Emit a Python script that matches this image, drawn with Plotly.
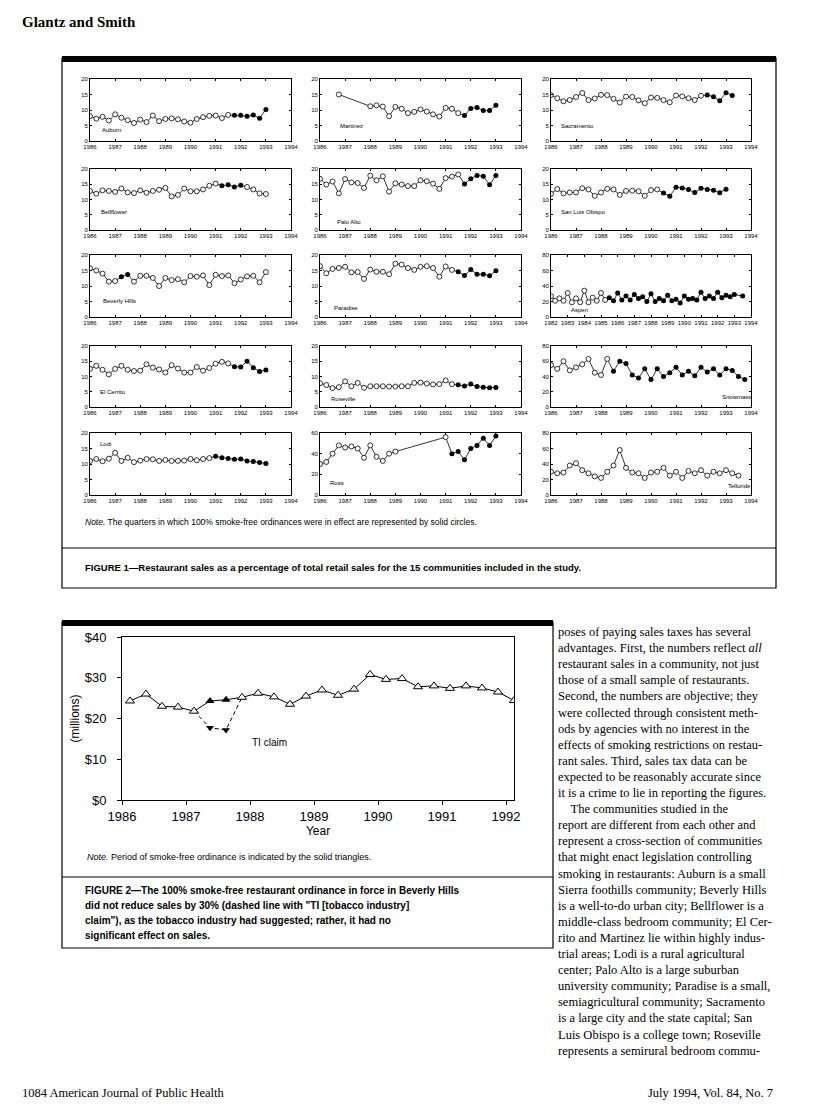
import plotly.graph_objects as go

W, H = 816, 1116
OFF = 8  # the page body adds an 8px margin; shift everything back by that much

# ---------------- Figure 1 data (restaurant sales, % of total retail sales) ----------------
# quarterly values starting at the given year; None = quarter not reported
auburn = [8.0, 7.2, 7.8, 6.6, 8.6, 7.5, 6.7, 5.8, 6.9, 6.1, 8.2, 6.4, 7.1, 7.3, 7.0, 6.3,
          5.9, 7.1, 7.7, 8.1, 8.2, 7.4, 8.4, 8.3, 8.3, 8.0, 8.4, 7.3, 10.2]
martinez = [None, None, None, 15.0, None, None, None, None, 11.2, 11.5, 11.1, 8.0, 11.0, 10.4, 9.0, 9.4,
            10.2, 9.5, 8.6, 7.9, 10.7, 10.4, 9.0, 8.2, 10.5, 10.8, 9.8, 9.8, 11.5]
sacramento = [14.8, 13.8, 12.8, 13.2, 14.2, 15.5, 13.2, 13.7, 14.9, 14.8, 13.6, 12.4, 14.3, 14.2, 13.1, 12.2,
              14.0, 13.9, 13.2, 12.5, 14.7, 14.4, 13.8, 13.2, 14.6, 14.8, 14.3, 13.0, 15.6, 14.7]
bellflower = [12.8, 11.9, 13.0, 12.8, 12.5, 13.6, 12.3, 12.1, 13.0, 12.2, 12.8, 13.2, 13.8, 11.0, 11.5, 13.6,
              12.7, 12.7, 13.3, 14.5, 15.2, 14.5, 14.8, 14.1, 14.7, 14.1, 13.3, 12.0, 11.8]
palo_alto = [16.8, 14.9, 15.9, 12.0, 16.7, 15.6, 15.4, 13.8, 17.8, 16.3, 17.6, 12.6, 15.3, 14.9, 14.4, 14.4,
             16.3, 16.0, 15.2, 13.5, 17.0, 17.5, 18.2, 15.1, 16.8, 17.9, 17.6, 14.8, 17.9]
san_luis = [11.9, 13.4, 12.0, 12.3, 12.3, 13.7, 13.3, 11.2, 12.3, 13.5, 13.3, 11.5, 12.8, 12.9, 12.7, 11.2,
            13.1, 13.3, 12.1, 11.1, 14.0, 13.8, 13.3, 12.3, 13.7, 13.3, 13.0, 12.2, 13.4]
beverly = [15.7, 15.0, 14.0, 11.4, 11.6, 13.0, 13.7, 11.4, 13.3, 13.3, 12.6, 10.0, 12.6, 11.9, 12.2, 11.2,
           13.2, 13.0, 13.4, 10.3, 13.6, 13.2, 13.4, 10.9, 12.1, 13.1, 13.3, 11.2, 14.5]
paradise = [16.4, 14.1, 15.5, 15.8, 16.2, 14.4, 14.5, 12.3, 15.3, 14.6, 14.6, 13.8, 17.2, 16.9, 15.8, 15.2,
            16.2, 16.4, 15.8, 13.0, 16.3, 15.2, 14.6, 13.4, 15.3, 13.8, 13.8, 13.3, 14.9]
aspen = [27, 21, 24, 21, 31, 19, 24, 19, 34, 19, 25, 21, 31, 22, 25, 21,
         31, 22, 27, 22, 29, 24, 26, 20, 30, 20, 24, 21, 28, 21, 23, 18,
         27, 23, 24, 22, 32, 24, 27, 24, 32, 25, 28, 26, 29, None, 27]
el_cerrito = [12.5, 13.5, 12.2, 10.7, 12.5, 13.5, 12.2, 11.8, 11.9, 14.0, 12.9, 12.3, 11.3, 13.7, 12.6, 11.3,
              11.3, 13.1, 11.9, 12.8, 14.2, 14.8, 14.3, 13.2, 13.1, 15.0, 12.9, 11.6, 12.1]
roseville = [7.8, 7.2, 6.2, 6.5, 8.4, 6.8, 7.9, 6.3, 6.8, 6.8, 6.8, 6.7, 6.7, 6.8, 6.8, 7.9,
             8.0, 7.7, 7.4, 7.5, 8.7, 7.5, 7.3, 6.9, 7.5, 6.7, 6.5, 6.3, 6.4]
snowmass = [55, 50, 60, 48, 52, 56, 63, 45, 42, 63, 47, 60, 57, 42, 38, 50,
            36, 50, 40, 45, 52, 42, 47, 41, 52, 46, 50, 42, 50, 48, 40, 36]
lodi = [11.0, 11.6, 10.9, 11.7, 13.6, 11.0, 12.0, 10.6, 11.1, 11.6, 11.5, 11.0, 11.3, 11.0, 11.0, 11.1,
        11.6, 11.2, 11.6, 11.9, 12.5, 12.0, 11.8, 11.5, 11.6, 11.0, 10.8, 10.5, 10.2]
ross = [30, 32, 40, 48, 46, 47, 45, 36, 48, 37, 33, 40, 42, None, None, None,
        None, None, None, None, 56, 40, 42, 34, 45, 48, 55, 48, 57]
telluride = [30, 28, 29, 38, 41, 32, 28, 24, 22, 30, 38, 58, 35, 29, 28, 22,
             29, 30, 35, 25, 30, 22, 31, 28, 32, 25, 30, 28, 32, 28, 25]

# community, series, first quarter, ordinance start, ordinance end, y max
panels = [
    ("Auburn", auburn, 1986.0, 1991.75, 1993.0, 20),
    ("Martinez", martinez, 1986.0, 1991.75, 1993.0, 20),
    ("Sacramento", sacramento, 1986.0, 1992.25, 1993.25, 20),
    ("Bellflower", bellflower, 1986.0, 1991.25, 1992.0, 20),
    ("Palo Alto", palo_alto, 1986.0, 1991.75, 1993.0, 20),
    ("San Luis Obispo", san_luis, 1986.0, 1990.5, 1993.0, 20),
    ("Beverly Hills", beverly, 1986.0, 1987.25, 1987.5, 20),
    ("Paradise", paradise, 1986.0, 1991.5, 1993.0, 20),
    ("Aspen", aspen, 1982.0, 1985.5, 1993.5, 80),
    ("El Cerrito", el_cerrito, 1986.0, 1991.75, 1993.0, 20),
    ("Roseville", roseville, 1986.0, 1991.5, 1993.0, 20),
    ("Snowmass", snowmass, 1986.0, 1988.5, 1993.75, 80),
    ("Lodi", lodi, 1986.0, 1991.0, 1993.0, 20),
    ("Ross", ross, 1986.0, 1991.25, 1993.0, 60),
    ("Telluride", telluride, 1986.0, 2000.0, 2000.0, 80),
]
# where each community's name sits inside its panel (x in years from axis start, y in axis units)
label_pos = [(0.4, 3.5), (0.73, 4.7), (0.3, 4.9), (0.36, 6.0), (0.6, 2.7), (0.3, 5.8),
             (0.42, 5.2), (0.47, 3.0), (1.1, 8.5), (0.33, 4.9), (0.37, 2.7), (6.75, 13.0),
             (0.3, 16.5), (0.3, 12.0), (7.0, 12.0)]

# ---------------- Figure 2 data (Beverly Hills restaurant sales, $ millions) ----------------
bh_quarters = [1986.125, 1986.375, 1986.625, 1986.875, 1987.125, 1987.375, 1987.625, 1987.875,
               1988.125, 1988.375, 1988.625, 1988.875, 1989.125, 1989.375, 1989.625, 1989.875,
               1990.125, 1990.375, 1990.625, 1990.875, 1991.125, 1991.375, 1991.625, 1991.875, 1992.125]
bh_sales = [24.3, 26.0, 23.0, 22.8, 21.8, 24.3, 24.6, 25.2, 26.2, 25.3, 23.5, 25.5, 27.0, 25.7, 27.2, 30.8,
            29.6, 29.8, 27.8, 28.0, 27.4, 28.0, 27.5, 26.5, 24.4]
bh_ordinance = [1987.375, 1987.625]
ti_quarters = [1987.125, 1987.375, 1987.625, 1987.875]
ti_claim = [21.8, 17.7, 17.2, 25.2]

fig = go.Figure()


def xdom(a, b):
    return [(a - OFF) / W, (b - OFF) / W]


def ydom(top, bottom):
    return [1 - (bottom - OFF) / H, 1 - (top - OFF) / H]


col_x = [(90, 291), (320, 521), (551, 751)]
row_y = [(79, 141), (169, 230), (255, 317), (346, 407), (433, 495)]
small_font = dict(family="Liberation Sans", size=6, color="black")

for i, (name, vals, start, ord0, ord1, ymax) in enumerate(panels):
    r, c = divmod(i, 3)
    n = i + 1
    xa = "x" if n == 1 else "x%d" % n
    ya = "y" if n == 1 else "y%d" % n
    xs = [start + 0.25 * k for k in range(len(vals))]
    pts = [(x, v) for x, v in zip(xs, vals) if v is not None]
    open_pts = [(x, v) for x, v in pts if not (ord0 <= x <= ord1)]
    full_pts = [(x, v) for x, v in pts if ord0 <= x <= ord1]
    fig.add_trace(go.Scatter(x=[p[0] for p in pts], y=[p[1] for p in pts], mode="lines",
                             line=dict(color="black", width=0.8), xaxis=xa, yaxis=ya,
                             showlegend=False, hoverinfo="skip"))
    fig.add_trace(go.Scatter(x=[p[0] for p in open_pts], y=[p[1] for p in open_pts], mode="markers",
                             marker=dict(symbol="circle", size=5, color="white",
                                         line=dict(color="black", width=0.8)),
                             xaxis=xa, yaxis=ya, showlegend=False))
    fig.add_trace(go.Scatter(x=[p[0] for p in full_pts], y=[p[1] for p in full_pts], mode="markers",
                             marker=dict(symbol="circle", size=5, color="black"),
                             xaxis=xa, yaxis=ya, showlegend=False))
    x0 = 1982 if name == "Aspen" else 1986
    lx, ly = label_pos[i]
    fig.add_annotation(x=x0 + lx, y=ly, xref=xa, yref=ya, text=name, showarrow=False,
                       xanchor="left", yanchor="middle",
                       font=dict(family="Liberation Sans", size=6, color="black"))
    axis_common = dict(showline=True, linecolor="black", linewidth=0.8, mirror="ticks",
                       ticks="inside", ticklen=2, tickcolor="black", tickwidth=0.6,
                       showgrid=False, zeroline=False, tickfont=small_font, fixedrange=True,
                       automargin=False)
    fig.layout[("xaxis" if n == 1 else "xaxis%d" % n)] = dict(
        domain=xdom(*col_x[c]), range=[x0, 1994], dtick=1, tick0=x0,
        anchor=ya, **axis_common)
    fig.layout[("yaxis" if n == 1 else "yaxis%d" % n)] = dict(
        domain=ydom(*row_y[r]), range=[0, ymax], dtick=ymax / 4 if ymax != 60 else 20,
        anchor=xa, **axis_common)

# Figure 2 chart
fig.add_trace(go.Scatter(x=ti_quarters, y=ti_claim, mode="lines",
                         line=dict(color="black", width=1, dash="4px,3px"),
                         xaxis="x16", yaxis="y16", showlegend=False))
fig.add_trace(go.Scatter(x=ti_quarters[1:3], y=ti_claim[1:3], mode="markers",
                         marker=dict(symbol="triangle-down", size=7, color="black"),
                         xaxis="x16", yaxis="y16", showlegend=False))
fig.add_trace(go.Scatter(x=bh_quarters, y=bh_sales, mode="lines",
                         line=dict(color="black", width=1),
                         xaxis="x16", yaxis="y16", showlegend=False))
bh_open = [(x, v) for x, v in zip(bh_quarters, bh_sales) if x not in bh_ordinance]
bh_full = [(x, v) for x, v in zip(bh_quarters, bh_sales) if x in bh_ordinance]
fig.add_trace(go.Scatter(x=[p[0] for p in bh_open], y=[p[1] for p in bh_open], mode="markers",
                         marker=dict(symbol="triangle-up", size=8, color="white",
                                     line=dict(color="black", width=1)),
                         xaxis="x16", yaxis="y16", showlegend=False))
fig.add_trace(go.Scatter(x=[p[0] for p in bh_full], y=[p[1] for p in bh_full], mode="markers",
                         marker=dict(symbol="triangle-up", size=8, color="black"),
                         xaxis="x16", yaxis="y16", showlegend=False))
fig.add_annotation(x=1988.0, y=14.0, xref="x16", yref="y16", text="TI claim", showarrow=False,
                   xanchor="left", font=dict(family="Liberation Sans", size=10, color="black"))
big_font = dict(family="Liberation Sans", size=13, color="black")
fig.layout["xaxis16"] = dict(domain=xdom(122, 514), range=[1986, 1992.125], dtick=1, tick0=1986,
                             anchor="y16", showline=True, linecolor="black", linewidth=1, mirror=True,
                             ticks="outside", ticklen=4, tickcolor="black", showgrid=False, zeroline=False,
                             tickfont=big_font, automargin=False,
                             title=dict(text="Year", font=dict(family="Liberation Sans", size=12,
                                                               color="black"), standoff=4))
fig.layout["yaxis16"] = dict(domain=ydom(637, 800), range=[0, 40], dtick=10, tickprefix="$",
                             anchor="x16", showline=True, linecolor="black", linewidth=1, mirror=True,
                             ticks="outside", ticklen=4, tickcolor="black", showgrid=False, zeroline=False,
                             tickfont=big_font, automargin=False, ticklabelstandoff=8,
                             title=dict(text="(millions)", font=dict(family="Liberation Sans", size=12,
                                                                     color="black"), standoff=2))

# ---------------- page furniture ----------------
shapes = []


def rect(x0, y0, x1, y1, **kw):
    shapes.append(dict(type="rect", xref="paper", yref="paper",
                       x0=(x0 - OFF) / W, x1=(x1 - OFF) / W,
                       y0=1 - (y1 - OFF) / H, y1=1 - (y0 - OFF) / H, **kw))


def hline(x0, x1, y, width=1):
    shapes.append(dict(type="line", xref="paper", yref="paper",
                       x0=(x0 - OFF) / W, x1=(x1 - OFF) / W,
                       y0=1 - (y - OFF) / H, y1=1 - (y - OFF) / H,
                       line=dict(color="black", width=width)))


rect(62, 58, 776, 588, line=dict(color="black", width=1.2))
rect(62, 56, 776, 62, line=dict(width=0), fillcolor="black")
hline(62, 776, 548)
rect(62, 622, 553, 948, line=dict(color="black", width=1.2))
rect(62, 620, 553, 626, line=dict(width=0), fillcolor="black")
hline(62, 553, 877)
fig.update_layout(shapes=shapes)


def text(x, y, s, size, family="Liberation Serif", anchor="left", **kw):
    fig.add_annotation(x=(x - OFF) / W, y=1 - (y - OFF) / H, xref="paper", yref="paper", text=s,
                       showarrow=False, xanchor=anchor, yanchor="middle",
                       font=dict(family=family, size=size, color="black"), **kw)


text(20, 22, "<b>Glantz and Smith</b>", 15)
text(83, 522, "<i>Note.</i> The quarters in which 100% smoke-free ordinances were in effect are represented by solid circles.",
     8.5, "Liberation Sans")
text(83, 567, "<b>FIGURE 1—Restaurant sales as a percentage of total retail sales for the 15 communities included in the study.</b>",
     9.5, "Liberation Sans")
text(85, 857, "<i>Note.</i> Period of smoke-free ordinance is indicated by the solid triangles.", 9, "Liberation Sans")
cap2 = ["FIGURE 2—The 100% smoke-free restaurant ordinance in force in Beverly Hills",
        "did not reduce sales by 30% (dashed line with \"TI [tobacco industry]",
        "claim\"), as the tobacco industry had suggested; rather, it had no",
        "significant effect on sales."]
for k, s in enumerate(cap2):
    text(83, 890 + 15 * k, "<b>" + s + "</b>", 10, "Liberation Sans")

body = ["poses of paying sales taxes has several",
        "advantages. First, the numbers reflect <i>all</i>",
        "restaurant sales in a community, not just",
        "those of a small sample of restaurants.",
        "Second, the numbers are objective; they",
        "were collected through consistent meth-",
        "ods by agencies with no interest in the",
        "effects of smoking restrictions on restau-",
        "rant sales. Third, sales tax data can be",
        "expected to be reasonably accurate since",
        "it is a crime to lie in reporting the figures.",
        "    The communities studied in the",
        "report are different from each other and",
        "represent a cross-section of communities",
        "that might enact legislation controlling",
        "smoking in restaurants: Auburn is a small",
        "Sierra foothills community; Beverly Hills",
        "is a well-to-do urban city; Bellflower is a",
        "middle-class bedroom community; El Cer-",
        "rito and Martinez lie within highly indus-",
        "trial areas; Lodi is a rural agricultural",
        "center; Palo Alto is a large suburban",
        "university community; Paradise is a small,",
        "semiagricultural community; Sacramento",
        "is a large city and the state capital; San",
        "Luis Obispo is a college town; Roseville",
        "represents a semirural bedroom commu-"]
for k, s in enumerate(body):
    text(556, 632 + 16.1 * k, s.replace("    ", "&nbsp;&nbsp;&nbsp;&nbsp;"), 12.5)

text(20, 1093, "1084 American Journal of Public Health", 12.5)
text(775, 1093, "July 1994, Vol. 84, No. 7", 12.5, anchor="right")

fig.update_layout(template="none", width=W, height=H, margin=dict(l=0, r=0, t=0, b=0, autoexpand=False),
                  paper_bgcolor="white", plot_bgcolor="white", showlegend=False)

fig.write_html("out.html")
